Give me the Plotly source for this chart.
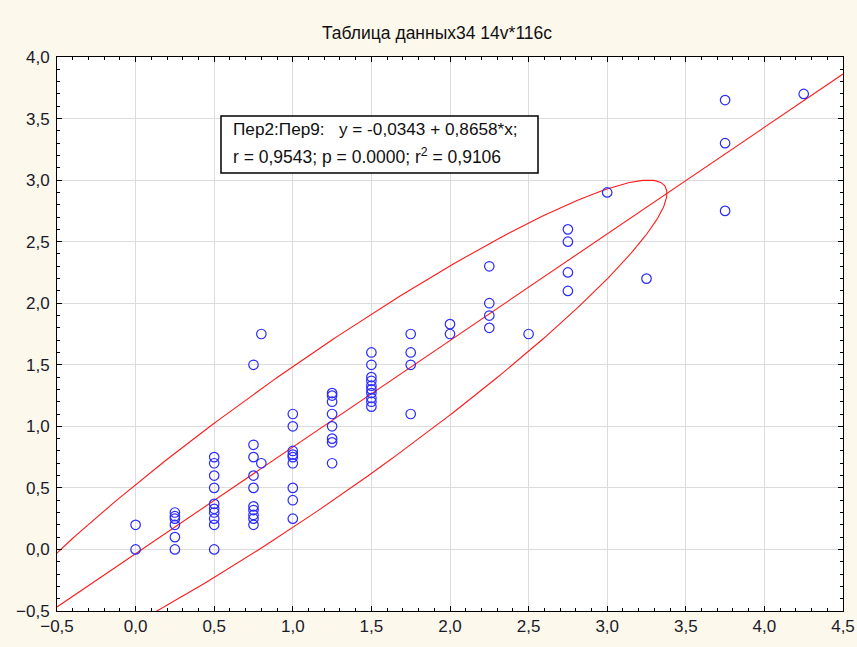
import numpy as np
import plotly.graph_objects as go

# ---- data ----
x_vals = (
    [0.0] * 2
    + [0.25] * 6
    + [0.5] * 10
    + [0.75] * 10
    + [0.8] * 2
    + [1.0] * 9
    + [1.25] * 8
    + [1.5] * 10
    + [1.75] * 4
    + [2.0] * 2
    + [2.25] * 4
    + [2.5]
    + [2.75] * 4
    + [3.0]
    + [3.25]
    + [3.75] * 3
    + [4.25]
)
y_vals = (
    [0.2, 0.0]
    + [0.3, 0.27, 0.25, 0.2, 0.1, 0.0]
    + [0.75, 0.7, 0.6, 0.5, 0.37, 0.33, 0.3, 0.25, 0.2, 0.0]
    + [1.5, 0.85, 0.75, 0.6, 0.5, 0.35, 0.32, 0.28, 0.25, 0.2]
    + [1.75, 0.7]
    + [1.1, 1.0, 0.8, 0.77, 0.75, 0.7, 0.5, 0.4, 0.25]
    + [1.27, 1.25, 1.2, 1.1, 1.0, 0.9, 0.87, 0.7]
    + [1.6, 1.5, 1.4, 1.37, 1.33, 1.3, 1.27, 1.23, 1.2, 1.16]
    + [1.75, 1.6, 1.5, 1.1]
    + [1.83, 1.75]
    + [2.3, 2.0, 1.9, 1.8]
    + [1.75]
    + [2.6, 2.5, 2.25, 2.1]
    + [2.9]
    + [2.2]
    + [3.65, 3.3, 2.75]
    + [3.7]
)

# regression coefficients printed on the chart
reg_intercept = -0.0343
reg_slope = 0.8658

# statistics of the full data set behind the 95% ellipse
ell_mean_x = 1.15
ell_sd_x = 0.911
ell_r = 0.947
ell_level = 5.991  # chi-square, 2 df, 95 %

title_text = "Таблица данных34 14v*116c"
stats_line1 = "Пер2:Пер9:   y = -0,0343 + 0,8658*x;"
stats_line2 = "r = 0,9543; p = 0.0000; r<sup>2</sup> = 0,9106"

x_range = [-0.5, 4.5]
y_range = [-0.5, 4.0]

# ---- derived: regression line and ellipse ----
line_x = np.linspace(x_range[0], x_range[1], 50)
line_y = reg_intercept + reg_slope * line_x

ell_mean_y = reg_intercept + reg_slope * ell_mean_x
ell_sd_y = reg_slope * ell_sd_x / ell_r
mean = np.array([ell_mean_x, ell_mean_y])
cov = np.array([[ell_sd_x ** 2, ell_r * ell_sd_x * ell_sd_y],
                [ell_r * ell_sd_x * ell_sd_y, ell_sd_y ** 2]])
vals, vecs = np.linalg.eigh(cov)
t = np.linspace(0, 2 * np.pi, 400)
circle = np.vstack([np.cos(t), np.sin(t)])
ell = vecs @ (np.sqrt(vals * ell_level)[:, None] * circle) + mean[:, None]

narrow_family = "Liberation Sans Narrow, Arial Narrow, Liberation Sans, Arial"
regular_family = "Liberation Sans, Arial"
red = "#FF1A1A"

fig = go.Figure()
fig.add_trace(go.Scatter(x=ell[0], y=ell[1], mode="lines",
                         line=dict(color=red, width=1.1), hoverinfo="skip"))
fig.add_trace(go.Scatter(x=line_x, y=line_y, mode="lines",
                         line=dict(color=red, width=1.1), hoverinfo="skip"))
fig.add_trace(go.Scatter(x=x_vals, y=y_vals, mode="markers",
                         marker=dict(symbol="circle-open", size=9.5,
                                     color="#2A2AFF", line=dict(width=1.2))))

axis_common = dict(
    showgrid=True, gridcolor="#DCDCDC", gridwidth=1,
    zeroline=False, showline=True, linecolor="black", linewidth=1,
    mirror="allticks", ticks="inside", ticklen=5, tickcolor="black",
    tickformat=".1f", dtick=0.5, automargin=False,
    tickfont=dict(family=regular_family, size=17, color="#1A1A2A"),
    minor=dict(dtick=0.1, ticks="inside", ticklen=3, tickcolor="black", showgrid=False),
)

fig.update_layout(
    width=857, height=647,
    margin=dict(l=57, r=14, t=57, b=36),
    paper_bgcolor="#FDF8EC", plot_bgcolor="white",
    separators=", ",
    showlegend=False,
    title=dict(text=title_text, x=437 / 857, xref="container", xanchor="center",
               y=1 - 33 / 647, yref="container", yanchor="middle",
               font=dict(family=narrow_family, size=17.5, color="#101010")),
    xaxis=dict(range=x_range, tick0=-0.5, **axis_common),
    yaxis=dict(range=y_range, tick0=-0.5, ticklabelstandoff=3, **axis_common),
)

# statistics box
fig.add_shape(type="rect", xref="paper", yref="paper",
              x0=(221 - 57) / 786, x1=(538 - 57) / 786,
              y0=(611 - 173) / 554, y1=(611 - 116) / 554,
              line=dict(color="black", width=1.5), fillcolor="white", layer="above")
fig.add_annotation(text=stats_line1, xref="paper", yref="paper",
                   x=(231 - 57) / 786, y=(611 - 129) / 554,
                   xanchor="left", yanchor="middle", showarrow=False,
                   font=dict(family=regular_family, size=17.2, color="#101010"))
fig.add_annotation(text=stats_line2, xref="paper", yref="paper",
                   x=(231 - 57) / 786, y=(611 - 156) / 554,
                   xanchor="left", yanchor="middle", showarrow=False,
                   font=dict(family=regular_family, size=17.5, color="#101010"))

fig.write_html("out.html")
